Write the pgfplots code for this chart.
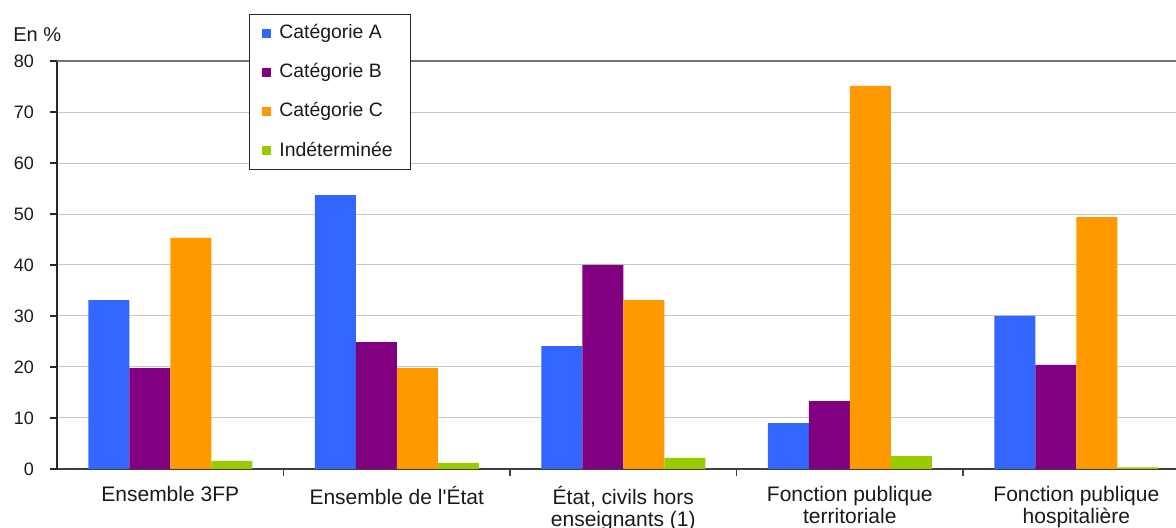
\documentclass[border=0pt]{standalone}
\usepackage{fontspec}
\setmainfont{Liberation Sans}[Ligatures=TeXOff]
\usepackage{pgfplots}
\pgfplotsset{compat=1.18}
\definecolor{catA}{HTML}{3366FF}
\definecolor{catB}{HTML}{800080}
\definecolor{catC}{HTML}{FF9900}
\definecolor{catI}{HTML}{99CC00}
\definecolor{txt}{HTML}{1A1A1A}

\begin{document}
\begin{tikzpicture}
\begin{axis}[
    scale only axis,
    width=559.5pt, height=204pt,
    xmin=-0.5, xmax=4.44, ymin=0, ymax=80,
    ybar=0pt, bar width=20.5pt,
    axis x line*=bottom, axis y line*=left,
    x axis line style={draw=black!75, line width=0.8pt, -},
    y axis line style={draw=black!85, line width=0.8pt, -},
    /pgf/number format/assume math mode=true,
    ticklabel style={text=txt},
    tick align=outside,
    major tick length=3.5pt, minor tick length=3.5pt,
    ytick={0,10,...,80},
    yticklabel style={font=\fontsize{9}{11}\selectfont, xshift=-4.5pt},
    ymajorgrids, grid style={draw=black!22, line width=0.5pt},
    extra y ticks={80}, extra y tick labels={},
    extra y tick style={grid style={draw=black!55, line width=0.8pt}},
    y tick style={draw=black!85, line width=0.8pt},
    xtick={0,...,4},
    xticklabels={Ensemble 3FP, Ensemble de l'État, {État, civils hors\\enseignants (1)}, {Fonction publique\\territoriale}, {Fonction publique\\hospitalière}},
    xticklabel style={align=center, font=\fontsize{10.5}{11.3}\selectfont, yshift=-1.5pt},
    major x tick style={draw=none},
    minor xtick={0.5,1.5,2.5,3.5},
    minor x tick style={draw=black!75, line width=0.8pt},
    legend style={at={(rel axis cs:0.1716,1.115)}, anchor=north west, draw=black!85,
        font=\fontsize{9.7}{11}\selectfont, text=txt, row sep=6.9pt,
        inner xsep=5pt, inner ysep=3pt, nodes={inner xsep=4pt}},
    legend cell align=left,
    legend image code/.code={\path (0pt,0pt); \fill[#1] (1.5pt,-2.25pt) rectangle (6pt,2.25pt);},
]
\addplot[fill=catA, draw=none] coordinates {(0,33.1) (1,53.7) (2,24.1) (3,9.0) (4,30.0)};
\addplot[fill=catB, draw=none] coordinates {(0,19.8) (1,24.9) (2,40.0) (3,13.3) (4,20.4)};
\addplot[fill=catC, draw=none] coordinates {(0,45.3) (1,19.8) (2,33.1) (3,75.1) (4,49.4)};
\addplot[fill=catI, draw=none] coordinates {(0,1.6) (1,1.2) (2,2.2) (3,2.5) (4,0.3)};
\legend{Catégorie A, Catégorie B, Catégorie C, Indéterminée}
\end{axis}
\node[anchor=base west, font=\fontsize{10}{12}\selectfont, text=txt, inner sep=0pt] at (-22pt,213.5pt) {En \%};
\pgfresetboundingbox
\path (-28.5pt,-29.5pt) rectangle (559.5pt,234.5pt);
\end{tikzpicture}
\end{document}
